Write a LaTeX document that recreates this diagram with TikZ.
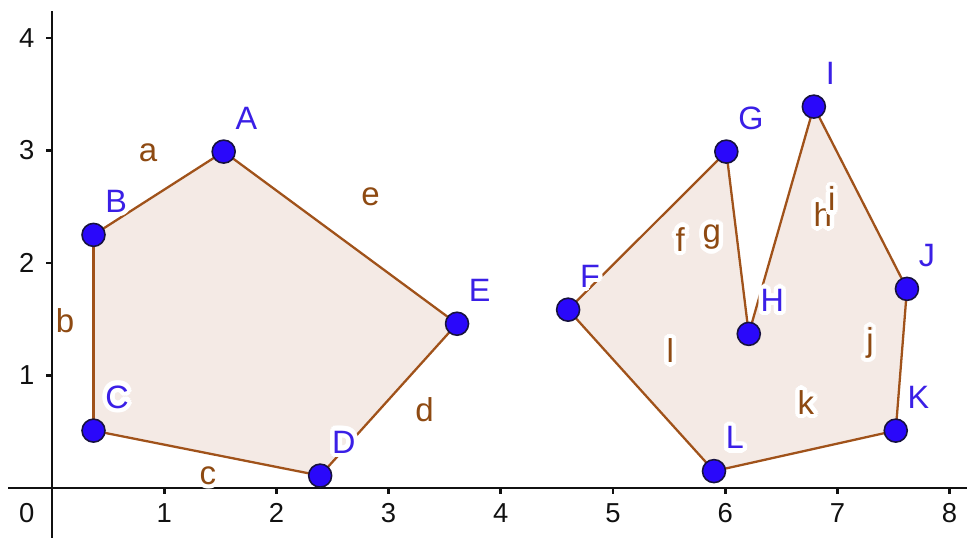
\documentclass[tikz,border=0pt]{standalone}
\usepackage{fontspec}
\setmainfont{Liberation Sans}
\usepackage{xcolor}
\usepackage[copies]{contour}
\contourlength{1.3pt}
\contournumber{16}
\usepackage{tikz}
\definecolor{axisink}{HTML}{111111}
\definecolor{segmentink}{HTML}{A0521A}
\definecolor{segmentlabel}{HTML}{8E4A12}
\definecolor{polyfill}{HTML}{F4EAE5}
\definecolor{pointfill}{HTML}{2A08FA}
\definecolor{pointrim}{HTML}{17123F}
\definecolor{pointlabel}{HTML}{3A1FE6}

\begin{document}
\begin{tikzpicture}[
  x=1.122cm,
  y=1.125cm,
  line cap=round,
  line join=round,
  axis/.style={
    draw=axisink,
    line width=0.75pt,
    line cap=butt
  },
  seg/.style={
    draw=segmentink,
    line width=0.65pt
  },
  dot/.style={
    circle,
    draw=pointrim,
    fill=pointfill,
    line width=0.45pt,
    minimum size=2.3mm,
    inner sep=0pt
  },
  ptlabel/.style={
    anchor=base west,
    inner sep=0pt,
    text=pointlabel,
    font=\fontsize{9.2}{11}\selectfont
  },
  seglabel/.style={
    inner sep=0pt,
    text=segmentlabel,
    font=\fontsize{9.4}{11}\selectfont
  },
  ticklabel/.style={
    inner sep=0pt,
    text=axisink,
    font=\fontsize{7.8}{9}\selectfont
  }
]

\useasboundingbox (-0.4635,-0.4444) rectangle (8.1551,4.3378);

% ------------------------------------------------------------
% Axes with ticks
% ------------------------------------------------------------

\coordinate (xleft) at (-0.39,0);
\coordinate (xright) at (8.16,0);
\coordinate (ytop) at (0,4.24);
\coordinate (ybottom) at (0,-0.45);
\draw[axis] (xleft) -- (xright);
\draw[axis] (ybottom) -- (ytop);

\foreach \k in {1,...,8}{
  \draw[axis] (\k,0) -- (\k,-0.05);
  \node[ticklabel] (xtick\k) at (\k,-0.225) {\k};
}
\foreach \k in {1,...,4}{
  \draw[axis] (0,\k) -- (-0.05,\k);
  \node[ticklabel] (ytick\k) at (-0.225,\k) {\k};
}
\node[ticklabel] (origin) at (-0.225,-0.225) {0};

% ------------------------------------------------------------
% Vertices
% ------------------------------------------------------------

\foreach \p/\x/\y in {A/1.53/2.99,B/0.37/2.25,C/0.37/0.51,D/2.39/0.11,
                      E/3.61/1.46,F/4.60/1.585,G/6.01/2.99,H/6.21/1.37,
                      I/6.79/3.39,J/7.62/1.77,K/7.52/0.51,L/5.90/0.15}{
  \coordinate (\p) at (\x,\y);
}

% Polygons
\fill[polyfill] (A) -- (B) -- (C) -- (D) -- (E) -- cycle;
\fill[polyfill] (F) -- (G) -- (H) -- (I) -- (J) -- (K) -- (L) -- cycle;

\foreach \u/\v in {A/B,B/C,C/D,D/E,E/A,F/G,G/H,H/I,I/J,J/K,K/L,L/F}{
  \draw[seg] (\u) -- (\v);
}

% ------------------------------------------------------------
% Side labels
% ------------------------------------------------------------

\foreach \s/\x/\y in {a/0.856/2.96,b/0.116/1.467,c/1.39/0.09,d/3.32/0.676,
                      e/2.84/2.57,f/5.60/2.19,g/5.88/2.21,h/6.87/2.41,
                      i/6.95/2.55,j/7.29/1.27,k/6.72/0.74,l/5.51/1.20}{
  \node[seglabel] (side\s) at (\x,\y) {\contour{white}{\s}};
}

% ------------------------------------------------------------
% Points and their names
% ------------------------------------------------------------

\foreach \p in {A,B,C,D,E,F,G,H,I,J,K,L}{
  \node[ptlabel] (name\p) at ([shift={(0.1,0.2)}]\p) {\contour{white}{\p}};
}
\foreach \p in {A,B,C,D,E,F,G,H,I,J,K,L}{
  \node[dot] (dot\p) at (\p) {};
}
\end{tikzpicture}
\end{document}
